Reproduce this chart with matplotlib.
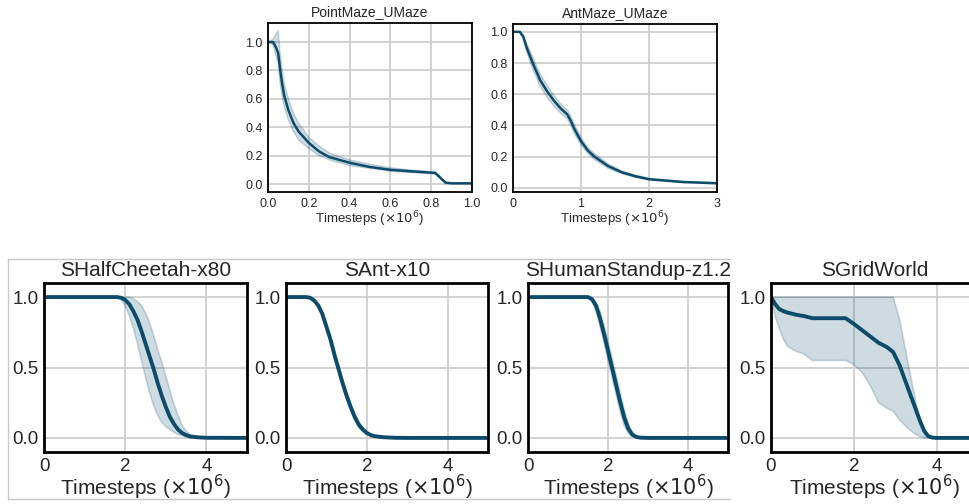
import matplotlib
matplotlib.use("Agg")
import matplotlib.pyplot as plt
from matplotlib.lines import Line2D
import numpy as np

plt.rcParams["font.family"] = ["Liberation Sans", "DejaVu Sans"]

LINE_COLOR = "#0d4b6b"
GRID_COLOR = "#cfcfcf"
XLABEL = r"Timesteps ($\times10^6$)"

# ---- top row ----
pm_x = [0, 0.025, 0.04, 0.05, 0.06, 0.07, 0.08, 0.1, 0.125, 0.15, 0.2, 0.25, 0.3, 0.4, 0.5, 0.6, 0.7, 0.8, 0.82, 0.87, 0.9, 1.0]
pm_mean = [1.0, 1.0, 0.96, 0.92, 0.80, 0.70, 0.62, 0.52, 0.43, 0.37, 0.29, 0.23, 0.19, 0.15, 0.12, 0.10, 0.09, 0.08, 0.078, 0.01, 0.005, 0.005]
pm_upper = [1.0, 1.02, 1.06, 1.08, 0.92, 0.80, 0.71, 0.60, 0.50, 0.43, 0.33, 0.27, 0.22, 0.17, 0.14, 0.115, 0.10, 0.088, 0.085, 0.012, 0.006, 0.006]
pm_lower = [1.0, 0.98, 0.90, 0.85, 0.70, 0.61, 0.54, 0.45, 0.37, 0.31, 0.25, 0.20, 0.17, 0.13, 0.11, 0.09, 0.08, 0.072, 0.07, 0.008, 0.004, 0.004]

am_x = [0, 0.1, 0.15, 0.2, 0.3, 0.4, 0.5, 0.6, 0.7, 0.8, 0.85, 0.9, 1.0, 1.1, 1.2, 1.4, 1.6, 1.8, 2.0, 2.5, 3.0]
am_mean = [1.0, 1.0, 0.97, 0.90, 0.79, 0.69, 0.62, 0.56, 0.51, 0.47, 0.43, 0.38, 0.30, 0.24, 0.20, 0.14, 0.10, 0.075, 0.056, 0.038, 0.03]
am_upper = [1.0, 1.0, 0.98, 0.93, 0.83, 0.73, 0.66, 0.595, 0.54, 0.50, 0.46, 0.41, 0.325, 0.26, 0.22, 0.155, 0.11, 0.083, 0.062, 0.042, 0.034]
am_lower = [1.0, 1.0, 0.96, 0.87, 0.75, 0.65, 0.58, 0.525, 0.48, 0.44, 0.40, 0.35, 0.275, 0.22, 0.18, 0.125, 0.09, 0.067, 0.05, 0.034, 0.026]

# ---- bottom row ----
hc_x = [0, 1.8, 1.9, 2.0, 2.1, 2.2, 2.3, 2.4, 2.5, 2.6, 2.7, 2.8, 2.9, 3.0, 3.1, 3.2, 3.3, 3.4, 3.5, 3.6, 3.8, 4.0, 5.0]
hc_mean = [1, 1, 0.995, 0.98, 0.95, 0.90, 0.84, 0.76, 0.67, 0.58, 0.49, 0.39, 0.30, 0.22, 0.15, 0.10, 0.06, 0.035, 0.02, 0.01, 0.004, 0.001, 0]
hc_upper = [1, 1, 1, 1, 1, 0.99, 0.97, 0.94, 0.89, 0.82, 0.73, 0.63, 0.54, 0.44, 0.34, 0.24, 0.16, 0.09, 0.05, 0.025, 0.008, 0.002, 0]
hc_lower = [1, 1, 0.98, 0.94, 0.87, 0.78, 0.67, 0.55, 0.43, 0.32, 0.23, 0.16, 0.11, 0.08, 0.06, 0.04, 0.025, 0.015, 0.008, 0.004, 0.001, 0, 0]

ant_x = [0, 0.5, 0.6, 0.7, 0.8, 0.9, 1.0, 1.1, 1.2, 1.3, 1.4, 1.5, 1.6, 1.7, 1.8, 1.9, 2.0, 2.1, 2.2, 2.4, 2.7, 3.0, 5.0]
ant_mean = [1, 1, 0.995, 0.975, 0.94, 0.88, 0.79, 0.70, 0.59, 0.49, 0.39, 0.30, 0.22, 0.15, 0.095, 0.06, 0.035, 0.02, 0.012, 0.005, 0.001, 0, 0]
ant_upper = [1, 1, 0.998, 0.98, 0.95, 0.895, 0.81, 0.72, 0.615, 0.515, 0.415, 0.325, 0.245, 0.175, 0.115, 0.075, 0.045, 0.027, 0.016, 0.007, 0.002, 0, 0]
ant_lower = [1, 1, 0.99, 0.97, 0.93, 0.865, 0.77, 0.68, 0.565, 0.465, 0.365, 0.275, 0.195, 0.125, 0.075, 0.045, 0.025, 0.013, 0.008, 0.003, 0.0, 0, 0]

hs_x = [0, 1.5, 1.6, 1.7, 1.8, 1.9, 2.0, 2.1, 2.2, 2.3, 2.4, 2.5, 2.6, 2.7, 2.8, 3.0, 5.0]
hs_mean = [1, 1, 0.985, 0.94, 0.85, 0.74, 0.62, 0.50, 0.38, 0.26, 0.15, 0.07, 0.025, 0.008, 0.002, 0, 0]
hs_upper = [1, 1, 0.995, 0.965, 0.90, 0.80, 0.69, 0.57, 0.45, 0.33, 0.21, 0.11, 0.045, 0.015, 0.004, 0, 0]
hs_lower = [1, 1, 0.97, 0.90, 0.79, 0.67, 0.55, 0.43, 0.31, 0.19, 0.09, 0.035, 0.01, 0.003, 0, 0, 0]

gw_x = [0, 0.1, 0.2, 0.3, 0.4, 0.6, 0.8, 1.0, 1.8, 2.0, 2.2, 2.4, 2.6, 2.8, 2.95, 3.1, 3.2, 3.3, 3.4, 3.5, 3.6, 3.7, 3.8, 3.9, 4.0, 5.0]
gw_mean = [1.0, 0.95, 0.915, 0.90, 0.89, 0.875, 0.865, 0.85, 0.85, 0.81, 0.765, 0.72, 0.675, 0.645, 0.61, 0.52, 0.44, 0.36, 0.28, 0.20, 0.12, 0.05, 0.012, 0.002, 0.0, 0.0]
gw_upper = [1.0, 1.0, 1.0, 1.0, 1.0, 1.0, 1.0, 1.0, 1.0, 1.0, 1.0, 1.0, 1.0, 1.0, 1.0, 0.85, 0.70, 0.55, 0.40, 0.26, 0.12, 0.03, 0.0, 0.0, 0.0, 0.0]
gw_lower = [1.0, 0.86, 0.78, 0.70, 0.65, 0.615, 0.595, 0.55, 0.55, 0.52, 0.465, 0.37, 0.25, 0.21, 0.19, 0.13, 0.10, 0.07, 0.045, 0.025, 0.01, 0.0, 0.0, 0.0, 0.0, 0.0]


def style_axes(ax, spine_w, fs_tick):
    ax.set_facecolor("white")
    ax.grid(True, color=GRID_COLOR, linewidth=1.3)
    ax.set_axisbelow(True)
    for s in ax.spines.values():
        s.set_color("black")
        s.set_linewidth(spine_w)
    ax.tick_params(length=0, labelsize=fs_tick, pad=4, colors="#262626")


def draw(ax, x, mean, upper, lower, lw, edge_lw):
    ax.fill_between(x, lower, upper, facecolor=LINE_COLOR, alpha=0.2,
                    edgecolor="none")
    ax.plot(x, upper, color=LINE_COLOR, alpha=0.2, linewidth=edge_lw)
    ax.plot(x, lower, color=LINE_COLOR, alpha=0.2, linewidth=edge_lw)
    ax.plot(x, mean, color=LINE_COLOR, linewidth=lw)


fig = plt.figure(figsize=(9.69, 5.04), dpi=100)
W, H = 969, 504


def add_axes(left, top, right, bottom):
    return fig.add_axes([left / W, (H - bottom) / H, (right - left) / W, (bottom - top) / H])


# top row
top_specs = [
    ("PointMaze_UMaze", pm_x, pm_mean, pm_upper, pm_lower, (268, 23, 472, 192),
     (0, 1), (-0.056, 1.134), np.arange(0, 1.01, 0.2)),
    ("AntMaze_UMaze", am_x, am_mean, am_upper, am_lower, (513, 24, 717, 192),
     (0, 3), (-0.026, 1.05), [0, 1, 2, 3]),
]
for title, x, m, u, l, box, xl, yl, xt in top_specs:
    ax = add_axes(*box)
    style_axes(ax, 1.3, 9)
    draw(ax, x, m, u, l, 1.8, 1.0)
    ax.set_xlim(*xl)
    ax.set_ylim(*yl)
    ax.set_xticks(xt)
    if title == "PointMaze_UMaze":
        ax.set_xticklabels([f"{v:.1f}" for v in xt])
    ax.set_yticks(np.arange(0, 1.01, 0.2))
    ax.set_yticklabels([f"{v:.1f}" for v in np.arange(0, 1.01, 0.2)])
    ax.set_title(title, fontsize=10, pad=5, color="#262626")
    ax.set_xlabel(XLABEL, fontsize=9.5, labelpad=0, color="#262626")

# bottom row
bottom_specs = [
    ("SHalfCheetah-x80", hc_x, hc_mean, hc_upper, hc_lower, (44, 283, 247, 452)),
    ("SAnt-x10", ant_x, ant_mean, ant_upper, ant_lower, (286, 283, 488, 452)),
    ("SHumanStandup-z1.2", hs_x, hs_mean, hs_upper, hs_lower, (528, 283, 728, 452)),
    ("SGridWorld", gw_x, gw_mean, gw_upper, gw_lower, (771, 283, 978, 452)),
]
for title, x, m, u, l, box in bottom_specs:
    ax = add_axes(*box)
    style_axes(ax, 2.0, 13.5)
    draw(ax, x, m, u, l, 2.8, 1.2)
    ax.set_xlim(0, 5)
    ax.set_ylim(-0.1, 1.1)
    ax.set_xticks([0, 2, 4])
    ax.set_yticks([0.0, 0.5, 1.0])
    ax.set_yticklabels(["0.0", "0.5", "1.0"])
    ax.set_title(title, fontsize=15, pad=5, color="#262626")
    ax.set_xlabel(XLABEL, fontsize=15, labelpad=-1, color="#262626")

# light frame around the bottom row
frame = dict(color="#c8c8c8", linewidth=1.0, transform=fig.transFigure)
fig.add_artist(Line2D([8 / W, 8 / W], [(H - 259) / H, (H - 499) / H], **frame))
fig.add_artist(Line2D([8 / W, 730 / W], [(H - 259) / H, (H - 259) / H], **frame))
fig.add_artist(Line2D([8 / W, 730 / W], [(H - 499) / H, (H - 499) / H], **frame))

fig.savefig("out.png", dpi=100, facecolor="white")
